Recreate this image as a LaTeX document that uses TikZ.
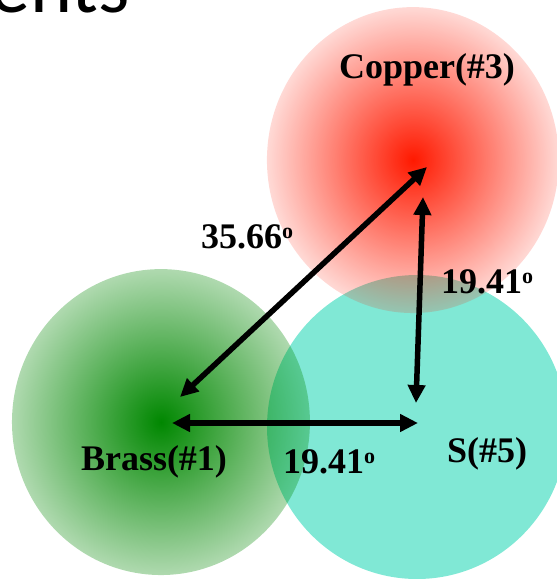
\documentclass[tikz,border=0pt]{standalone}
\usepackage{fontspec}
\setmainfont{Liberation Serif}
\newfontfamily\titlefont{Carlito}
\usetikzlibrary{arrows.meta,fadings}
\definecolor{tealfill}{RGB}{128,232,213}
\definecolor{greenball}{RGB}{0,135,0}
\definecolor{redball}{RGB}{255,25,0}
\pgfdeclareradialshading{greenfadeshade}{\pgfpointorigin}{color(0bp)=(white); color(25bp)=(black!69); color(50bp)=(black!69)}
\pgfdeclarefading{greenfade}{\pgfuseshading{greenfadeshade}}
\pgfdeclareradialshading{redfadeshade}{\pgfpointorigin}{color(0bp)=(white); color(25bp)=(black!84); color(50bp)=(black!84)}
\pgfdeclarefading{redfade}{\pgfuseshading{redfadeshade}}
\newcommand\degsup{\raisebox{10pt}{\fontsize{22}{22}\selectfont o}}
\tikzset{
  lbl/.style={font=\bfseries\fontsize{36}{40}\selectfont, inner sep=0pt, anchor=base},
  dblarrow/.style={line width=5.5pt, {Triangle[length=18pt,width=17pt]}-{Triangle[length=18pt,width=17pt]}}
}
\begin{document}
\begin{tikzpicture}[x=1pt,y=-1pt]
\useasboundingbox (0,0) rectangle (557,579);
\begin{scope}
\clip (0,0) rectangle (557,579);
% circles
\fill[tealfill] (417,427) ellipse [x radius=150, y radius=152];
\fill[greenball, path fading=greenfade] (161,422) ellipse [x radius=149, y radius=153];
\fill[redball, path fading=redfade] (413,160) ellipse [x radius=146, y radius=153];
% title fragment
\node[font=\titlefont\fontsize{80}{80}\selectfont, anchor=base west, inner sep=0pt] (title) at (-10,12) {ents};
\end{scope}
% arrow end points
\coordinate (brassD) at (180,397);
\coordinate (copperD) at (427,167);
\coordinate (copperV) at (423,197);
\coordinate (sV) at (416,403);
\coordinate (brassH) at (172,423);
\coordinate (sH) at (418,423);
\draw[dblarrow] (brassD) -- (copperD);
\draw[dblarrow] (copperV) -- (sV);
\draw[dblarrow] (brassH) -- (sH);
% labels
\node[lbl] (copper) at (427,78) {Copper(\#3)};
\node[lbl] (brass) at (154,470) {Brass(\#1)};
\node[lbl] (s5) at (487,462) {S(\#5)};
\node[lbl] (a1) at (247,248) {35.66\degsup};
\node[lbl] (a2) at (487,293) {19.41\degsup};
\node[lbl] (a3) at (329,473) {19.41\degsup};
\end{tikzpicture}
\end{document}
